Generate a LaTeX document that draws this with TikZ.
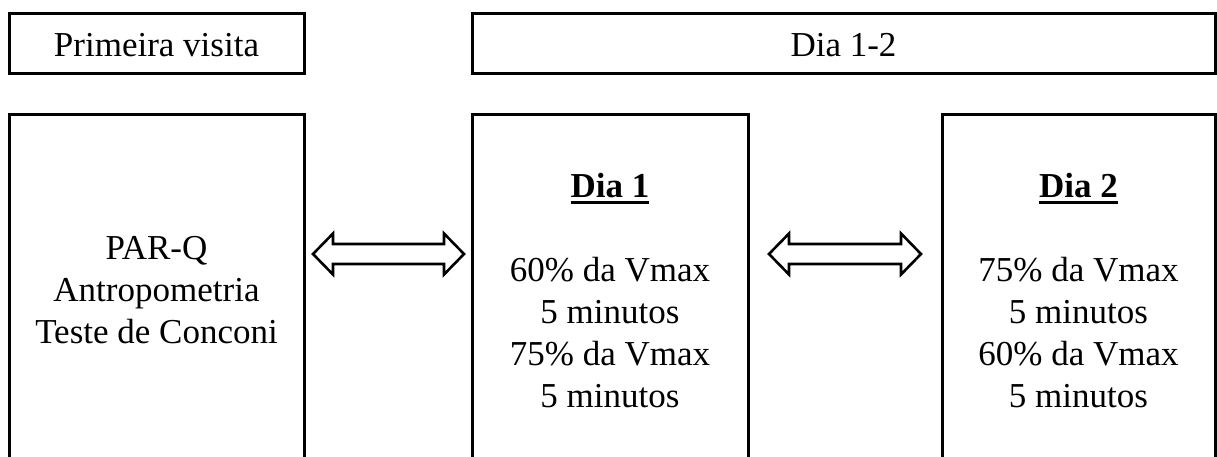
\documentclass[tikz,border=0pt]{standalone}
\usepackage{fontspec}
\setmainfont{Liberation Serif}
\usetikzlibrary{calc}

% bold heading with a heavy underline
\newcommand\dayhead[1]{\setbox0\hbox{\bfseries #1}\rlap{\rule[-7pt]{\wd0}{3pt}}\box0}
% hollow double-headed arrow between two tip points
\newcommand\fatarrow[2]{%
  \draw[fat] (#1) -- ++(20,20.5) -- ++(0,-10.5) -- ($(#2)+(-20,10)$) -- ++(0,10.5)
    -- (#2) -- ++(-20,-20.5) -- ++(0,10.5) -- ($(#1)+(20,-10)$) -- ++(0,-10.5) -- cycle;}

\begin{document}
\begin{tikzpicture}[x=1pt,y=1pt,
  box/.style={draw=black, line width=3pt, rectangle, inner sep=0pt, outer sep=0pt},
  txt/.style={inner sep=0pt, anchor=base, font=\fontsize{35}{42}\selectfont},
  fat/.style={draw=black, line width=2.6pt, line join=miter, fill=white}]
\useasboundingbox (0,0) rectangle (1217,-457);
\clip (0,0) rectangle (1217,-457);

% header boxes
\node[box, minimum width=295, minimum height=60] (visit) at (156.5,-44) {};
\node[box, minimum width=743, minimum height=60] (days) at (843.5,-44) {};
\node[txt] (visitT) at ($(visit.south)+(0,17)$) {Primeira visita};
\node[txt] (daysT) at ($(days.south)+(0,17)$) {Dia 1-2};

% content boxes (open at the bottom edge)
\node[box, minimum width=295, minimum height=355] (pre) at (156.5,-292.5) {};
\node[box, minimum width=276, minimum height=355] (d1) at (610,-292.5) {};
\node[box, minimum width=273, minimum height=355] (d2) at (1078.5,-292.5) {};

\node[txt] (preT) at ($(pre.north)+(0,-144)$)
  {\begin{tabular}[t]{@{}c@{}}PAR-Q\\Antropometria\\Teste de Conconi\end{tabular}};
\node[txt] (d1T) at ($(d1.north)+(0,-82)$)
  {\begin{tabular}[t]{@{}c@{}}\dayhead{Dia 1}\\ \\60\% da Vmax\\5 minutos\\75\% da Vmax\\5 minutos\end{tabular}};
\node[txt] (d2T) at ($(d2.north)+(0,-82)$)
  {\begin{tabular}[t]{@{}c@{}}\dayhead{Dia 2}\\ \\75\% da Vmax\\5 minutos\\60\% da Vmax\\5 minutos\end{tabular}};

% arrows between the boxes
\coordinate (a1) at ($(pre.north east)+(9,-139)$);
\coordinate (b1) at ($(d1.north west)+(-8,-139)$);
\coordinate (a2) at ($(d1.north east)+(21,-139)$);
\coordinate (b2) at ($(d2.north west)+(-21,-139)$);
\fatarrow{a1}{b1}
\fatarrow{a2}{b2}
\end{tikzpicture}
\end{document}
